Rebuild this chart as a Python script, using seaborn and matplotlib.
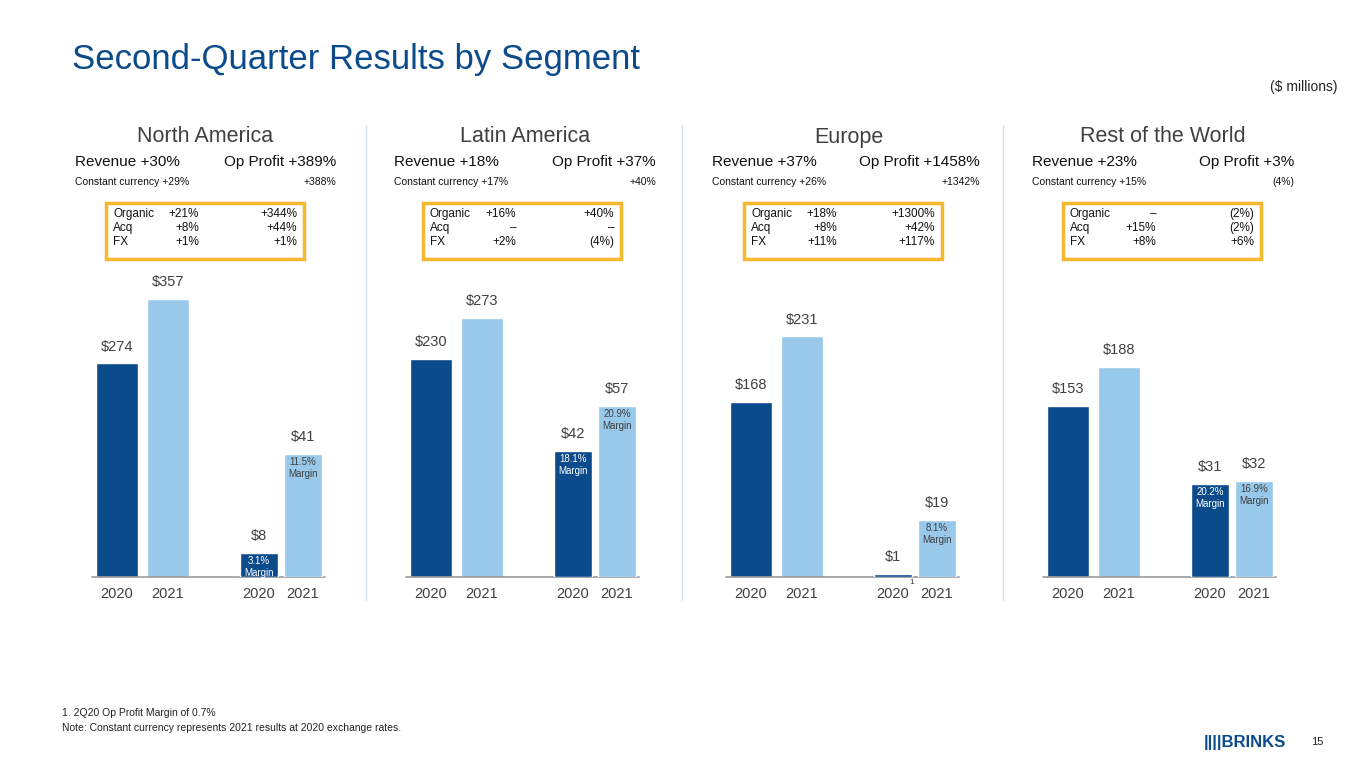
import matplotlib

matplotlib.use("Agg")

import matplotlib.pyplot as plt
import pandas as pd
import seaborn as sns
from matplotlib.patches import Rectangle

W, H = 1365, 768
DARK = "#0B4A8B"
LIGHT = "#99C9EA"
GOLD = "#F5B82E"
GREY = "#404040"

# data
segments = ["North America", "Latin America", "Europe", "Rest of the World"]
years = ["2020", "2021"]
revenue = [[274, 357], [230, 273], [168, 231], [153, 188]]
op_profit = [[8, 41], [42, 57], [1, 19], [31, 32]]
margins = [["3.1%", "11.5%"], ["18.1%", "20.9%"], [None, "8.1%"], ["20.2%", "16.9%"]]
rev_growth = ["Revenue +30%", "Revenue +18%", "Revenue +37%", "Revenue +23%"]
op_growth = ["Op Profit +389%", "Op Profit +37%", "Op Profit +1458%", "Op Profit +3%"]
cc_rev = ["Constant currency +29%", "Constant currency +17%",
          "Constant currency +26%", "Constant currency +15%"]
cc_op = ["+388%", "+40%", "+1342%", "(4%)"]
bridge_rows = ["Organic", "Acq", "FX"]
bridge_rev = [["+21%", "+8%", "+1%"], ["+16%", "\u2013", "+2%"],
              ["+18%", "+8%", "+11%"], ["\u2013", "+15%", "+8%"]]
bridge_op = [["+344%", "+44%", "+1%"], ["+40%", "\u2013", "(4%)"],
             ["+1300%", "+42%", "+117%"], ["(2%)", "(2%)", "+6%"]]

# layout (pixel units)
rev_top = [385, 316, 288, 268]
OP_TOP = 100
centers = [117, 431, 751, 1068]
header_x = [205, 525, 849, 1163]
left_x = [75, 394, 712, 1032]
right_x = [336, 656, 980, 1294]
box_x = [106, 423, 744, 1063]
sep_x = [366, 682, 1003]
BASE, TOP = 577, 277

sns.set_theme(style="white")
plt.rcParams["font.family"] = ["Liberation Sans", "DejaVu Sans"]

fig = plt.figure(figsize=(W / 100, H / 100), dpi=100)


def fx(x):
    return x / W


def fy(y):
    return 1 - y / H


def text(x, y, s, **kw):
    fig.text(fx(x), fy(y), s, **kw)


text(72, 60, "Second-Quarter Results by Segment", fontsize=25, color=DARK, va="center")
text(1337, 87, "($ millions)", fontsize=10, color="#222222", ha="right", va="center")

for sx in sep_x:
    fig.add_artist(plt.Line2D([fx(sx)] * 2, [fy(125), fy(600)], color="#CFE3F3", lw=1))

for i, seg in enumerate(segments):
    c = centers[i]
    text(header_x[i], 137, seg, fontsize=15.5, color=GREY, ha="center", va="center")
    text(left_x[i], 162, rev_growth[i], fontsize=11, color="#111111", va="center")
    text(right_x[i], 162, op_growth[i], fontsize=11, color="#111111", ha="right", va="center")
    text(left_x[i], 182, cc_rev[i], fontsize=7.5, color="#111111", va="center")
    text(right_x[i], 182, cc_op[i], fontsize=7.5, color="#111111", ha="right", va="center")

    bx = box_x[i]
    fig.add_artist(Rectangle((fx(bx), fy(259)), fx(198), 56 / H, transform=fig.transFigure,
                             fill=False, edgecolor=GOLD, lw=2.5))
    for r, row in enumerate(bridge_rows):
        yy = 214 + 14 * r
        text(bx + 7, yy, row, fontsize=8.5, color="#111111", va="center")
        text(bx + 93, yy, bridge_rev[i][r], fontsize=8.5, color="#111111", ha="right", va="center")
        text(bx + 191, yy, bridge_op[i][r], fontsize=8.5, color="#111111", ha="right", va="center")

    x0, x1 = c - 45, c + 230
    ax = fig.add_axes([fx(x0), fy(BASE), fx(x1 - x0), (BASE - TOP) / H])
    ax2 = ax.twinx()

    rev_df = pd.DataFrame({"pos": [c, c + 51], "value": revenue[i], "year": years})
    op_df = pd.DataFrame({"pos": [c + 142, c + 186], "value": op_profit[i], "year": years})
    pal = {"2020": DARK, "2021": LIGHT}
    sns.barplot(data=rev_df, x="pos", y="value", hue="year", palette=pal, native_scale=True,
                width=0.82, dodge=False, legend=False, ax=ax, saturation=1)
    sns.barplot(data=op_df, x="pos", y="value", hue="year", palette=pal, native_scale=True,
                width=0.87, dodge=False, legend=False, ax=ax2, saturation=1)
    for a, top in ((ax, rev_top[i]), (ax2, OP_TOP)):
        a.set_xlim(x0, x1)
        a.set_ylim(0, top)
        a.axis("off")
    ax.plot([c - 25, c + 208], [0, 0], color="#999999", lw=1.2, clip_on=False)

    for j in range(2):
        ax.annotate(f"${revenue[i][j]}", (c + 51 * j, revenue[i][j]), xytext=(0, 7),
                    textcoords="offset points", ha="center", va="bottom", fontsize=10.5, color=GREY)
        px = c + 142 + 44 * j
        ax2.annotate(f"${op_profit[i][j]}", (px, op_profit[i][j]), xytext=(0, 7),
                     textcoords="offset points", ha="center", va="bottom", fontsize=10.5, color=GREY)
        m = margins[i][j]
        if m:
            ax2.annotate(f"{m}\nMargin", (px, op_profit[i][j]), xytext=(0, -2),
                         textcoords="offset points", ha="center", va="top", fontsize=7,
                         color="white" if j == 0 else GREY, linespacing=1.3)
        for k, px2 in enumerate([c + 51 * j, c + 142 + 44 * j]):
            text(px2, 594, years[j], fontsize=10.5, color=GREY, ha="center", va="center")

text(912, 583, "1", fontsize=6, color=GREY, ha="center", va="center")
text(62, 713, "1. 2Q20 Op Profit Margin of 0.7%", fontsize=7.5, color="#222222", va="center")
text(62, 728, "Note: Constant currency represents 2021 results at 2020 exchange rates.",
     fontsize=7.5, color="#222222", va="center")
text(1286, 742, "||||BRINKS", fontsize=12, fontweight="bold", color=DARK, ha="right", va="center")
text(1323, 742, "15", fontsize=8, color="#222222", ha="right", va="center")

fig.savefig("out.png", dpi=100)
